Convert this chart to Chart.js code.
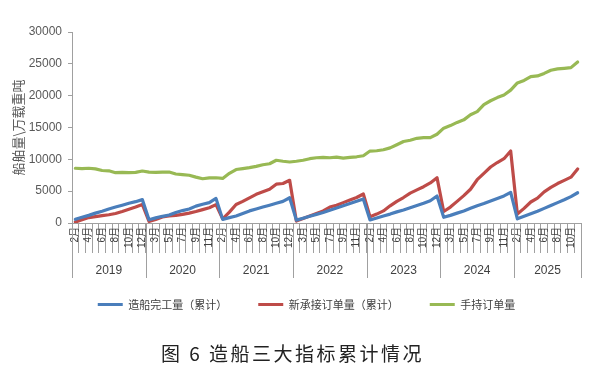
<!DOCTYPE html>
<html>
<head>
<meta charset="utf-8">
<script src="https://cdn.jsdelivr.net/npm/chart.js@4.4.1/dist/chart.umd.min.js"></script>
<style>
  html, body { margin: 0; padding: 0; background: #fff; }
  #wrap { position: relative; width: 593px; height: 366px; }
  #caption {
    position: absolute; left: -4px; top: 343px; width: 593px;
    text-align: center; line-height: 20px;
    font-family: "Noto Sans CJK SC"; font-size: 19px; letter-spacing: 2.5px; color: #222;
  }
</style>
</head>
<body>
<div id="wrap">
  <canvas id="chart" width="593" height="366"></canvas>
  <div id="caption">图 6 造船三大指标累计情况</div>
</div>
<script>
// years and months (Jan and Feb are reported together, so each year starts at 2月)
const years = ['2019', '2020', '2021', '2022', '2023', '2024', '2025'];
const fullYear = ['2月', '3月', '4月', '5月', '6月', '7月', '8月', '9月', '10月', '11月', '12月'];
const lastYear = ['2月', '3月', '4月', '5月', '6月', '7月', '8月', '9月', '10月', '11月'];

// 万载重吨, cumulative within each year
const completed = [
    580, 900, 1200, 1550, 1850, 2200, 2500, 2800, 3100, 3350, 3672,
    500, 800, 1050, 1250, 1650, 1950, 2200, 2650, 2950, 3200, 3853,
    570, 850, 1100, 1500, 1900, 2200, 2500, 2800, 3100, 3400, 3970,
    450, 750, 1050, 1350, 1650, 2000, 2350, 2700, 3050, 3400, 3786,
    480, 800, 1100, 1400, 1750, 2050, 2400, 2750, 3100, 3500, 4232,
    900, 1200, 1550, 1900, 2300, 2700, 3050, 3450, 3850, 4250, 4818,
    650, 1050, 1450, 1850, 2300, 2750, 3200, 3650, 4150, 4750
];
const newOrders = [
    150, 500, 850, 1000, 1150, 1300, 1500, 1800, 2150, 2500, 2907,
    250, 550, 950, 1100, 1200, 1350, 1550, 1800, 2100, 2400, 2893,
    650, 1700, 2900, 3400, 3960, 4500, 4900, 5300, 6100, 6200, 6707,
    300, 700, 1100, 1500, 1900, 2500, 2800, 3200, 3600, 4000, 4552,
    1000, 1400, 1900, 2700, 3400, 4000, 4700, 5200, 5700, 6300, 7120,
    1800, 2500, 3400, 4300, 5300, 6800, 7800, 8800, 9500, 10100, 11305,
    1400, 2300, 3300, 3900, 4900, 5600, 6200, 6700, 7200, 8500
];
const handheld = [
    8600, 8550, 8600, 8500, 8250, 8200, 7900, 7950, 7900, 7950, 8166,
    8000, 7950, 8000, 8000, 7700, 7600, 7500, 7200, 6950, 7100, 7111,
    7000, 7800, 8400, 8550, 8700, 8900, 9150, 9300, 9850, 9700, 9584,
    9700, 9850, 10100, 10250, 10300, 10250, 10350, 10200, 10300, 10400, 10557,
    11300, 11350, 11500, 11800, 12300, 12800, 13000, 13300, 13400, 13400, 13939,
    14900, 15300, 15800, 16200, 17000, 17500, 18600, 19200, 19700, 20100, 20872,
    22000, 22400, 23000, 23100, 23500, 24000, 24200, 24300, 24400, 25300
];

const monthsByYear = years.map((y, i) => i === years.length - 1 ? lastYear : fullYear);
const labels = monthsByYear.flat();

const axisGray = '#a0a0a0';
const textGray = '#595959';

// year row under the month labels: group lines and year names
const yearRows = {
    id: 'yearRows',
    afterDraw(chart) {
        const xs = chart.scales.x;
        const ctx = chart.ctx;
        const half = (xs.getPixelForValue(1) - xs.getPixelForValue(0)) / 2;
        const top = chart.chartArea.bottom;
        ctx.save();
        ctx.strokeStyle = axisGray;
        ctx.lineWidth = 1;
        ctx.fillStyle = '#404040';
        ctx.font = '12px "Liberation Sans"';
        ctx.textAlign = 'center';
        ctx.textBaseline = 'middle';
        let start = 0;
        monthsByYear.forEach((m, k) => {
            const left = xs.getPixelForValue(start) - half;
            const right = xs.getPixelForValue(start + m.length - 1) + half;
            ctx.beginPath();
            ctx.moveTo(Math.round(left) + 0.5, top);
            ctx.lineTo(Math.round(left) + 0.5, top + 55);
            if (k === monthsByYear.length - 1) {
                ctx.moveTo(Math.round(right) + 0.5, top);
                ctx.lineTo(Math.round(right) + 0.5, top + 55);
            }
            ctx.stroke();
            ctx.fillText(years[k], (left + right) / 2, top + 48);
            start += m.length;
        });
        ctx.restore();
    }
};

// nudge the legend row to where the reference puts it
const legendShift = {
    id: 'legendShift',
    afterLayout(chart) {
        chart.legend.left += 12;
        chart.legend.right += 12;
    }
};

const ctx = document.getElementById('chart').getContext('2d');

new Chart(ctx, {
    type: 'line',
    data: {
        labels: labels,
        datasets: [
            { label: '造船完工量（累计）', data: completed, borderColor: '#4a7ebb', backgroundColor: '#4a7ebb' },
            { label: '新承接订单量（累计）', data: newOrders, borderColor: '#be4b48', backgroundColor: '#be4b48' },
            { label: '手持订单量', data: handheld, borderColor: '#98b954', backgroundColor: '#98b954' }
        ]
    },
    options: {
        responsive: false,
        animation: false,
        devicePixelRatio: 1,
        layout: { padding: { left: 8, right: 12, top: 32, bottom: 46 } },
        elements: {
            line: { borderWidth: 3.2, tension: 0, fill: false, borderCapStyle: 'round', borderJoinStyle: 'round' },
            point: { radius: 0, hoverRadius: 0 }
        },
        plugins: {
            tooltip: { enabled: false },
            legend: {
                position: 'bottom',
                labels: {
                    boxWidth: 25,
                    boxHeight: 3,
                    padding: 31,
                    color: '#404040',
                    font: { family: '"Noto Sans CJK SC"', size: 11 },
                    generateLabels(chart) {
                        return chart.data.datasets.map((ds, i) => ({
                            text: ds.label,
                            fillStyle: ds.borderColor,
                            strokeStyle: ds.borderColor,
                            lineWidth: 0,
                            fontColor: '#404040',
                            datasetIndex: i
                        }));
                    }
                }
            }
        },
        scales: {
            x: {
                offset: true,
                afterFit(scale) { scale.height = 45; },
                border: { display: true, color: axisGray },
                grid: {
                    offset: true,
                    drawOnChartArea: false,
                    drawTicks: true,
                    tickLength: 30,
                    color: axisGray
                },
                ticks: {
                    autoSkip: false,
                    minRotation: 90,
                    maxRotation: 90,
                    padding: -26,
                    color: '#404040',
                    font: { family: '"Liberation Sans", "Noto Sans CJK SC"', size: 10 },
                    callback(value, index) { return index % 2 === 0 ? labels[index] : ''; }
                }
            },
            y: {
                min: 0,
                max: 30000,
                afterFit(scale) { scale.width = 64; },
                border: { display: true, color: axisGray },
                grid: { drawOnChartArea: false, tickLength: 4, color: axisGray },
                ticks: {
                    stepSize: 5000,
                    padding: 6,
                    color: textGray,
                    font: { family: '"Liberation Sans"', size: 12 },
                    callback(value) { return String(value); }
                },
                title: {
                    display: true,
                    text: '船舶量\\万载重吨',
                    color: textGray,
                    padding: { top: 2, bottom: 0 },
                    font: { family: '"Noto Sans CJK SC"', size: 13 }
                }
            }
        }
    },
    plugins: [yearRows, legendShift]
});
</script>
</body>
</html>
